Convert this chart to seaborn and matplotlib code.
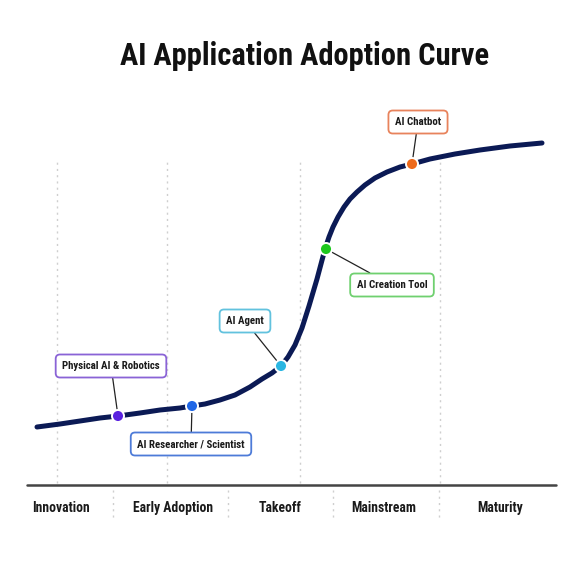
import matplotlib
matplotlib.use("Agg")
import matplotlib.pyplot as plt
import seaborn as sns
import pandas as pd

sns.set_theme(style="white")
plt.rcParams['font.family'] = ['Roboto Condensed', 'Open Sans Condensed', 'DejaVu Sans']
plt.rcParams['font.stretch'] = 'condensed'

# curve (x = time position, y = adoption height above baseline)
curve_x = [37, 60, 80, 100, 118, 140, 160, 180, 192, 205, 220, 235, 250, 262, 272, 281, 288, 295, 302,
           309, 317, 325, 329, 333, 338, 344, 350, 357, 365, 375, 387, 400, 412, 430, 455, 480, 510, 542]
curve_y = [58, 61, 64, 67, 69, 72, 75, 77, 79, 81, 85, 90, 98, 106, 112, 119, 128, 140, 157,
           179, 206, 236, 248, 258, 268, 278, 286, 293, 300, 307, 313, 318, 321, 326, 331, 335, 339, 342]

# applications placed on the curve
apps = ["Physical AI & Robotics", "AI Researcher / Scientist", "AI Agent", "AI Creation Tool", "AI Chatbot"]
app_x = [118, 192, 281, 326, 412]
app_y = [69, 79, 119, 236, 321]
label_x = [111, 191, 245, 392, 418]
label_y = [119, 41, 164, 200, 363]
dot_colors = ['#5a22e0', '#1f66e6', '#2ab6e2', '#1ec81e', '#ee6a1c']
box_colors = ['#8a63d6', '#4d7bd8', '#62c2de', '#6fd06f', '#e8835c']

# phases along the bottom
phases = ["Innovation", "Early Adoption", "Takeoff", "Mainstream", "Maturity"]
phase_x = [61, 173, 280, 384, 500]
upper_guides = [57, 167, 300, 440]
lower_guides = [113, 228, 333, 439]

fig = plt.figure(figsize=(5.82, 5.82), dpi=100)
ax = fig.add_axes([0, 0, 1, 1])
ax.set_xlim(0, 582)
ax.set_ylim(-97, 485)
ax.axis('off')

for gx in upper_guides:
    ax.plot([gx, gx], [2, 325], color='#cfcfcf', lw=1, ls=(0, (1.5, 3)), zorder=1)
for gx in lower_guides:
    ax.plot([gx, gx], [-5, -35], color='#cfcfcf', lw=1, ls=(0, (1.5, 3)), zorder=1)
ax.plot([27, 556], [0, 0], color='#444444', lw=1.8, zorder=2)

df = pd.DataFrame({'x': curve_x, 'y': curve_y})
sns.lineplot(data=df, x='x', y='y', ax=ax, color='#0b1a55', lw=3.6, sort=False,
             solid_capstyle='round', solid_joinstyle='round', zorder=3)

for name, px, py, lx, ly, dc, bc in zip(apps, app_x, app_y, label_x, label_y, dot_colors, box_colors):
    ax.annotate(name, xy=(px, py), xytext=(lx, ly), ha='center', va='center',
                fontsize=7.8, fontweight='bold', color='#1a1a1a',
                bbox=dict(boxstyle='round,pad=0.6,rounding_size=0.4', fc='white', ec=bc, lw=1.3),
                arrowprops=dict(arrowstyle='-', color='#222222', lw=0.9, shrinkA=0, shrinkB=4),
                zorder=4)

pts = pd.DataFrame({'x': app_x, 'y': app_y, 'app': apps})
sns.scatterplot(data=pts, x='x', y='y', hue='app', palette=dict(zip(apps, dot_colors)),
                s=75, edgecolor='white', linewidth=1.4, legend=False, ax=ax, zorder=5)

for name, px in zip(phases, phase_x):
    ax.text(px, -23, name, ha='center', va='center', fontsize=9.8, fontweight='bold',
            color='#1a1a1a')

ax.text(305, 429, "AI Application Adoption Curve", ha='center', va='center',
        fontsize=22, fontweight='bold', color='#111111')

fig.savefig("out.png", dpi=100)
